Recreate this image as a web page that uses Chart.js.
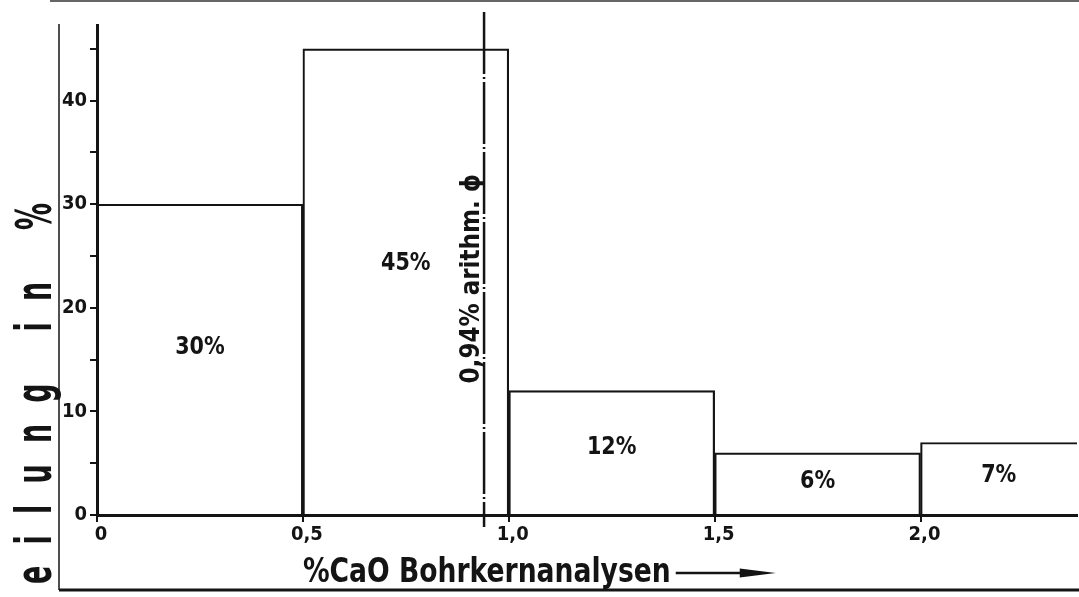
<!DOCTYPE html>
<html>
<head>
<meta charset="utf-8">
<script src="https://cdn.jsdelivr.net/npm/chart.js@4.4.1/dist/chart.umd.min.js"></script>
<style>
  html, body { margin: 0; padding: 0; background: #fff; }
  #wrap { width: 1079px; height: 597px; }
</style>
</head>
<body>
<div id="wrap"><canvas id="c" width="1079" height="597"></canvas></div>
<script>
// Häufigkeitsverteilung der CaO-Gehalte, Klassenbreite 0,5 %
const binStarts = [0, 0.5, 1.0, 1.5, 2.0];
const binWidth = 0.5;
const shares = [30, 45, 12, 6, 7];
const shareLabels = ['30%', '45%', '12%', '6%', '7%'];

const xTickValues = [0, 0.5, 1.0, 1.5, 2.0];
const xTickLabels = ['0', '0,5', '1,0', '1,5', '2,0'];
const yTickValues = [0, 5, 10, 15, 20, 25, 30, 35, 40, 45];
const yTickLabels = ['0', '', '10', '', '20', '', '30', '', '40', ''];

const meanValue = 0.94;
const meanLabel = '0,94% arithm. ϕ';
const xTitle = '%CaO Bohrkernanalysen';
const yTitle = 'Verteilung in %';

const xMax = 2.38;
const yMax = 47.3;

const FONT = "'DejaVu Sans Condensed', 'DejaVu Sans', sans-serif";
const INK = '#141414';

// schmal gesetzter Text: horizontal gestaucht
function narrowText(ctx, text, x, y, sx) {
  ctx.save();
  ctx.translate(x, y);
  ctx.scale(sx, 1);
  ctx.fillText(text, 0, 0);
  ctx.restore();
  return ctx.measureText(text).width * sx;
}

// Rahmen, Mittelwertlinie, Beschriftungen
const decor = {
  id: 'decor',
  beforeDraw(chart) {
    const { ctx, width, height } = chart;
    ctx.save();
    ctx.fillStyle = '#fff';
    ctx.fillRect(0, 0, width, height);
    ctx.restore();
  },
  afterDraw(chart) {
    const { ctx, width, chartArea: a, scales: { x, y } } = chart;
    ctx.save();
    ctx.strokeStyle = INK;
    ctx.fillStyle = INK;

    // äußerer Rahmen
    const frameLeft = a.left - 38;
    const frameBottom = a.bottom + 75;
    ctx.lineWidth = 1.5;
    ctx.beginPath();
    ctx.moveTo(frameLeft, a.top - 1);
    ctx.lineTo(frameLeft, frameBottom);
    ctx.stroke();
    ctx.lineWidth = 3;
    ctx.beginPath();
    ctx.moveTo(frameLeft, frameBottom);
    ctx.lineTo(width, frameBottom);
    ctx.stroke();
    ctx.strokeStyle = '#666';
    ctx.lineWidth = 2;
    ctx.beginPath();
    ctx.moveTo(a.left - 47, 1);
    ctx.lineTo(width, 1);
    ctx.stroke();
    ctx.strokeStyle = INK;

    // arithmetischer Mittelwert (strichpunktiert)
    const mx = x.getPixelForValue(meanValue);
    ctx.lineWidth = 2.5;
    ctx.setLineDash([62, 3, 2, 3]);
    ctx.beginPath();
    ctx.moveTo(mx, a.top - 13);
    ctx.lineTo(mx, a.bottom + 12);
    ctx.stroke();
    ctx.setLineDash([]);

    ctx.save();
    ctx.font = `bold 27px ${FONT}`;
    ctx.textBaseline = 'alphabetic';
    ctx.textAlign = 'left';
    ctx.translate(mx - 5, y.getPixelForValue(12.7));
    ctx.rotate(-Math.PI / 2);
    narrowText(ctx, meanLabel, 0, 0, 0.95);
    ctx.restore();

    // Anteile in den Klassen
    ctx.font = `bold 25px ${FONT}`;
    ctx.textAlign = 'center';
    ctx.textBaseline = 'middle';
    binStarts.forEach((s, i) => {
      const right = Math.min(s + binWidth, xMax);
      const cx = x.getPixelForValue((s + right) / 2);
      const cy = y.getPixelForValue(shares[i] * 0.54);
      ctx.save();
      ctx.translate(cx, cy);
      ctx.scale(0.92, 1);
      ctx.fillText(shareLabels[i], 0, 0);
      ctx.restore();
    });

    // x-Achsentitel mit Pfeil
    ctx.font = `bold 34px ${FONT}`;
    ctx.textAlign = 'left';
    ctx.textBaseline = 'alphabetic';
    const tx = x.getPixelForValue(0.5);
    const ty = a.bottom + 67;
    const tw = narrowText(ctx, xTitle, tx, ty, 0.87);
    const ax0 = tx + tw + 5;
    const ax1 = ax0 + 100;
    const ay = ty - 9;
    ctx.lineWidth = 2.5;
    ctx.beginPath();
    ctx.moveTo(ax0, ay);
    ctx.lineTo(ax1 - 20, ay);
    ctx.stroke();
    ctx.beginPath();
    ctx.moveTo(ax1 - 36, ay - 4.5);
    ctx.lineTo(ax1, ay);
    ctx.lineTo(ax1 - 36, ay + 4.5);
    ctx.closePath();
    ctx.fill();

    // y-Achsentitel, gesperrt und schmal gesetzt
    ctx.save();
    ctx.font = `bold 50px ${FONT}`;
    ctx.textAlign = 'left';
    ctx.textBaseline = 'alphabetic';
    const sx = 0.6;
    const chars = [...yTitle];
    const widths = chars.map(c => ctx.measureText(c).width * sx);
    const endY = a.top + 178;
    const startVisible = a.bottom + 69;
    const tail = widths.slice(4).reduce((p, q) => p + q, 0);
    const sp = (startVisible - endY - tail) / (chars.length - 5);
    const total = widths.reduce((p, q) => p + q, 0) + sp * (chars.length - 1);
    ctx.translate(a.left - 46, endY);
    ctx.rotate(-Math.PI / 2);
    let pos = -total;
    chars.forEach((c, i) => {
      ctx.save();
      ctx.translate(pos, 0);
      ctx.scale(sx, 1);
      ctx.fillText(c, 0, 0);
      ctx.restore();
      pos += widths[i] + sp;
    });
    ctx.restore();

    ctx.restore();
  }
};

const chart = new Chart(document.getElementById('c'), {
  type: 'bar',
  data: {
    datasets: [{
      data: binStarts.map((s, i) => ({ x: s + binWidth / 2, y: shares[i] })),
      backgroundColor: 'rgba(0,0,0,0)',
      borderColor: INK,
      borderWidth: 1.5,
      borderSkipped: 'bottom',
      barPercentage: 1,
      categoryPercentage: 1,
      clip: { left: 4, top: 4, right: 0, bottom: 4 }
    }]
  },
  options: {
    responsive: false,
    animation: false,
    devicePixelRatio: 1,
    layout: { padding: { top: 25, right: 2, left: 0, bottom: 0 } },
    plugins: {
      legend: { display: false },
      tooltip: { enabled: false },
      title: { display: false }
    },
    scales: {
      x: {
        type: 'linear',
        min: 0,
        max: xMax,
        offset: false,
        afterBuildTicks: s => { s.ticks = xTickValues.map(v => ({ value: v })); },
        afterFit: s => { s.height = 82; },
        grid: { display: true, drawOnChartArea: false, drawTicks: true, tickLength: 7, color: INK, lineWidth: 2, offset: false },
        border: { display: true, color: INK, width: 3 },
        ticks: {
          callback: (v, i) => xTickLabels[i],
          font: { family: FONT, size: 20, weight: 'bold' },
          color: INK,
          padding: 1,
          labelOffset: 4,
          maxRotation: 0,
          autoSkip: false
        }
      },
      y: {
        type: 'linear',
        min: 0,
        max: yMax,
        afterBuildTicks: s => { s.ticks = yTickValues.map(v => ({ value: v })); },
        afterFit: s => { s.width = 97; },
        grid: { display: true, drawOnChartArea: false, drawTicks: true, tickLength: 7, color: INK, lineWidth: 2 },
        border: { display: true, color: INK, width: 3 },
        ticks: {
          callback: (v, i) => yTickLabels[i],
          font: { family: FONT, size: 20, weight: 'bold' },
          color: INK,
          padding: 3,
          autoSkip: false
        }
      }
    }
  },
  plugins: [decor]
});
</script>
</body>
</html>
